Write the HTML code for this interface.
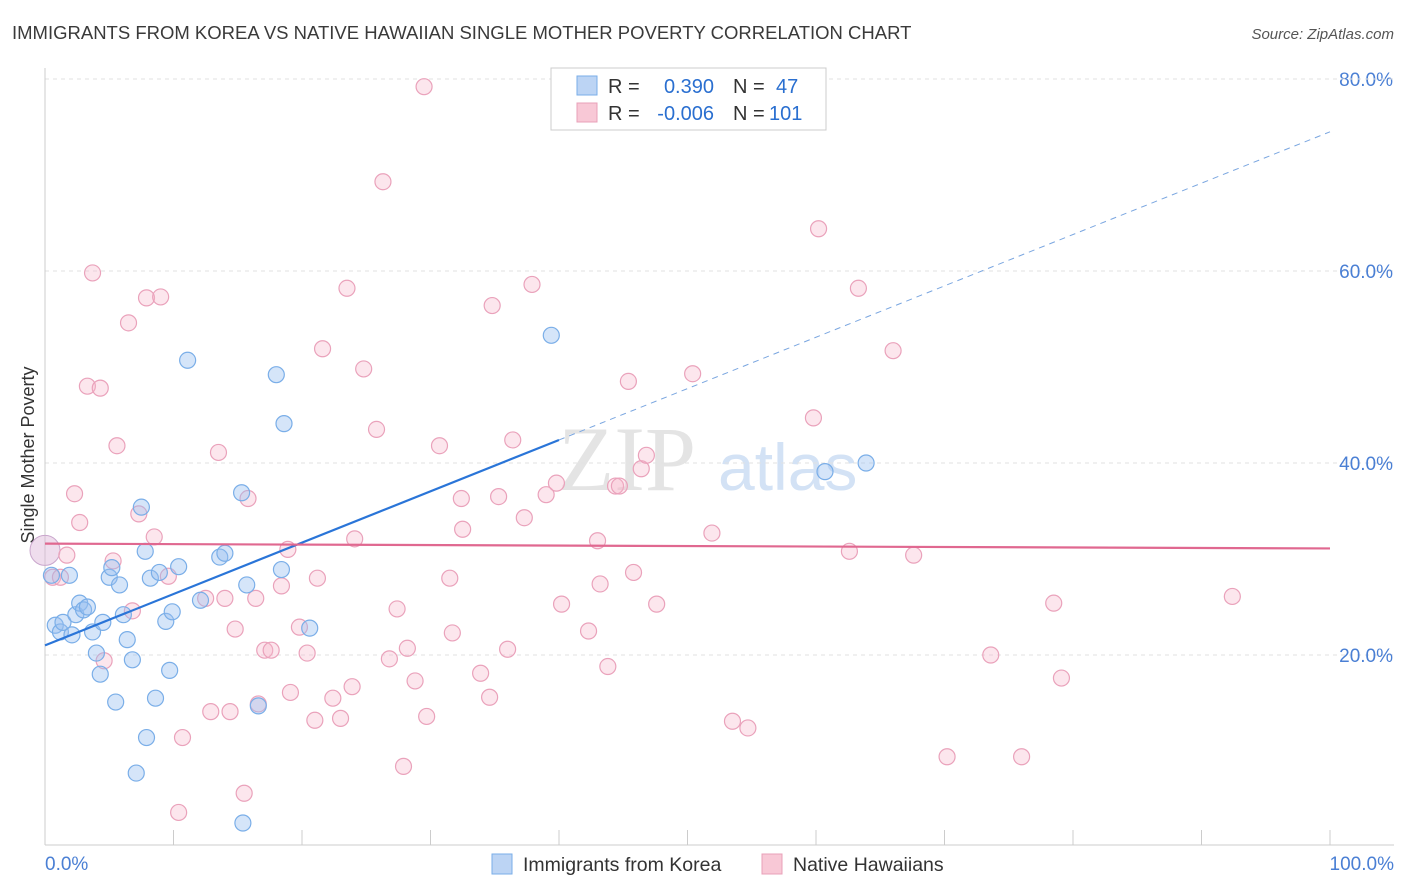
<!DOCTYPE html>
<html><head><meta charset="utf-8"><style>
body{margin:0;background:#fff;font-family:"Liberation Sans",sans-serif;}
#c{position:relative;width:1406px;height:892px;overflow:hidden;}
</style></head><body>
<div id="c">
<svg id="s" width="1406" height="892">
<text x="12" y="39" font-size="18.5" fill="#3a3a3a">IMMIGRANTS FROM KOREA VS NATIVE HAWAIIAN SINGLE MOTHER POVERTY CORRELATION CHART</text>
<text x="1394" y="39" font-size="15" fill="#555" font-style="italic" text-anchor="end">Source: ZipAtlas.com</text>
<text x="34" y="455" font-size="18" fill="#333" text-anchor="middle" transform="rotate(-90 34 455)">Single Mother Poverty</text>
<text x="558" y="490" font-size="92" fill="#e4e4e4" font-family="Liberation Serif">ZIP</text>
<text x="718" y="490" font-size="66" fill="#d3e2f5">atlas</text>
<g id="grid"></g><g id="pts"></g><g id="lines"></g>
<rect x="551" y="68" width="275" height="62" fill="#fff" stroke="#ccc"/>
<rect x="577" y="76" width="20" height="19" fill="#bcd4f4" stroke="#7aaee8"/>
<rect x="577" y="103" width="20" height="19" fill="#f8c8d6" stroke="#e8a0b8"/>
<g font-size="20">
<text x="608" y="93" fill="#333">R =</text><text x="714" y="93" fill="#2a6fd0" text-anchor="end">0.390</text>
<text x="733" y="93" fill="#333">N =</text><text x="776" y="93" fill="#2a6fd0">47</text></g>
<g font-size="20">
<text x="608" y="120" fill="#333">R =</text><text x="714" y="120" fill="#2a6fd0" text-anchor="end">-0.006</text>
<text x="733" y="120" fill="#333">N =</text><text x="769" y="120" fill="#2a6fd0">101</text></g>
<rect x="492" y="854" width="20" height="20" fill="#bcd4f4" stroke="#7aaee8"/>
<text x="523" y="871" font-size="19.5" fill="#333">Immigrants from Korea</text>
<rect x="762" y="854" width="20" height="20" fill="#f8c8d6" stroke="#e8a0b8"/>
<text x="793" y="871" font-size="19.5" fill="#333">Native Hawaiians</text>
<text x="45" y="870" font-size="19" fill="#4a7fd4">0.0%</text>
<text x="1394" y="870" font-size="19" fill="#4a7fd4" text-anchor="end">100.0%</text>
</svg></div>
<script>
const yTicks=[20,40,60,80];
const yTickLabels=["20.0%","40.0%","60.0%","80.0%"];
const xTicks=[0,10,20,30,40,50,60,70,80,90,100];
const koreaX=[0.5,0.8,1.2,1.4,1.9,2.1,2.4,2.7,3.0,3.3,3.7,4.0,4.3,4.5,5.0,5.2,5.5,5.8,6.1,6.4,6.8,7.1,7.5,7.8,7.9,8.2,8.6,8.9,9.4,9.7,9.9,10.4,11.1,12.1,13.6,14.0,15.3,15.4,15.7,16.6,18.0,18.4,18.6,20.6,39.4,60.7,63.9];
const koreaY=[28.3,23.1,22.4,23.4,28.3,22.1,24.2,25.4,24.7,25.0,22.4,20.2,18.0,23.4,28.1,29.1,15.1,27.3,24.2,21.6,19.5,7.7,35.4,30.8,11.4,28.0,15.5,28.6,23.5,18.4,24.5,29.2,50.7,25.7,30.2,30.6,36.9,2.5,27.3,14.7,49.2,28.9,44.1,22.8,53.3,39.1,40.0];
const hawX=[0.6,1.2,1.7,2.3,2.7,3.3,3.7,4.3,4.6,5.3,5.6,6.5,6.8,7.3,7.9,8.5,9.0,9.6,10.7,10.4,12.5,12.9,13.5,14.0,14.4,14.8,15.5,15.8,16.4,16.6,17.1,17.6,18.4,18.9,19.1,19.8,20.4,21.0,21.2,21.6,22.4,23.0,23.5,23.9,24.1,24.8,25.8,26.3,26.8,27.4,27.9,28.2,28.8,29.5,29.7,30.7,31.5,31.7,32.4,32.5,33.9,34.6,34.8,35.3,36.0,36.4,37.3,37.9,39.0,39.8,40.2,42.3,43.0,43.2,43.8,44.4,44.7,45.4,45.8,46.4,46.8,47.6,50.4,51.9,53.5,54.7,59.8,60.2,62.6,63.3,66.0,67.6,70.2,73.6,76.0,78.5,79.1,92.4];
const hawY=[28.1,28.1,30.4,36.8,33.8,48.0,59.8,47.8,19.4,29.8,41.8,54.6,24.6,34.7,57.2,32.3,57.3,28.2,11.4,3.6,25.9,14.1,41.1,25.9,14.1,22.7,5.6,36.3,25.9,14.9,20.5,20.5,27.2,31.0,16.1,22.9,20.2,13.2,28.0,51.9,15.5,13.4,58.2,16.7,32.1,49.8,43.5,69.3,19.6,24.8,8.4,20.7,17.3,79.2,13.6,41.8,28.0,22.3,36.3,33.1,18.1,15.6,56.4,36.5,20.6,42.4,34.3,58.6,36.7,37.9,25.3,22.5,31.9,27.4,18.8,37.6,37.6,48.5,28.6,39.4,40.8,25.3,49.3,32.7,13.1,12.4,44.7,64.4,30.8,58.2,51.7,30.4,9.4,20.0,9.4,25.4,17.6,26.1];
const koreaFit=[21.0,74.5];
const hawFit=[31.6,31.1];
const NS="http://www.w3.org/2000/svg";
const X=v=>45+v*12.85, Y=v=>847-v*9.6;
function mk(tag,attrs,parent){const e=document.createElementNS(NS,tag);for(const k in attrs)e.setAttribute(k,attrs[k]);parent.appendChild(e);return e;}
const grid=document.getElementById('grid'),pts=document.getElementById('pts'),lines=document.getElementById('lines');
yTicks.forEach((t,i)=>{
 const l=mk('line',{x1:45,x2:1394,y1:Y(t),y2:Y(t),stroke:'#e2e2e2','stroke-dasharray':'4,4'},grid);
 
 
 const tx=mk('text',{x:1393,y:Y(t)+7,'font-size':19,fill:'#4a7fd4','text-anchor':'end'},grid);
 tx.textContent=yTickLabels[i];
 
 
});
const topLine=mk('line',{x1:45,x2:1394,y1:79,y2:79,stroke:'#e2e2e2','stroke-dasharray':'4,4'},grid);


const ax=mk('line',{x1:45,x2:1394,y1:845,y2:845,stroke:'#ccc'},grid);


const ay=mk('line',{x1:45,x2:45,y1:68,y2:845,stroke:'#ccc'},grid);


xTicks.forEach(t=>{
 const l=mk('line',{x1:X(t),x2:X(t),y1:830,y2:845,stroke:'#ccc'},grid);
 
 
});
const big=mk('circle',{cx:X(0),cy:Y(30.9),r:15,fill:'rgba(220,180,215,0.45)',stroke:'#c9a6cc'},pts);


hawX.forEach((x,i)=>{
 const c=mk('circle',{cx:X(x),cy:Y(hawY[i]),r:8,fill:'rgba(246,182,203,0.35)',stroke:'#eaa2bb','stroke-width':1.2},pts);
 
 
});
koreaX.forEach((x,i)=>{
 const c=mk('circle',{cx:X(x),cy:Y(koreaY[i]),r:8,fill:'rgba(150,190,240,0.4)',stroke:'#7aaee8','stroke-width':1.2},pts);
 
 
});
const kAt=x=>koreaFit[0]+(koreaFit[1]-koreaFit[0])*x/100;
const k1=mk('line',{x1:X(0),y1:Y(kAt(0)),x2:X(40),y2:Y(kAt(40)),stroke:'#2a75d8','stroke-width':2.2},lines);


const k2=mk('line',{x1:X(40),y1:Y(kAt(40)),x2:X(100),y2:Y(kAt(100)),stroke:'#7aa6e0','stroke-width':1,'stroke-dasharray':'6,5'},lines);


const h=mk('line',{x1:X(0),y1:Y(hawFit[0]),x2:X(100),y2:Y(hawFit[1]),stroke:'#e06890','stroke-width':2.2},lines);


</script>
</body></html>
